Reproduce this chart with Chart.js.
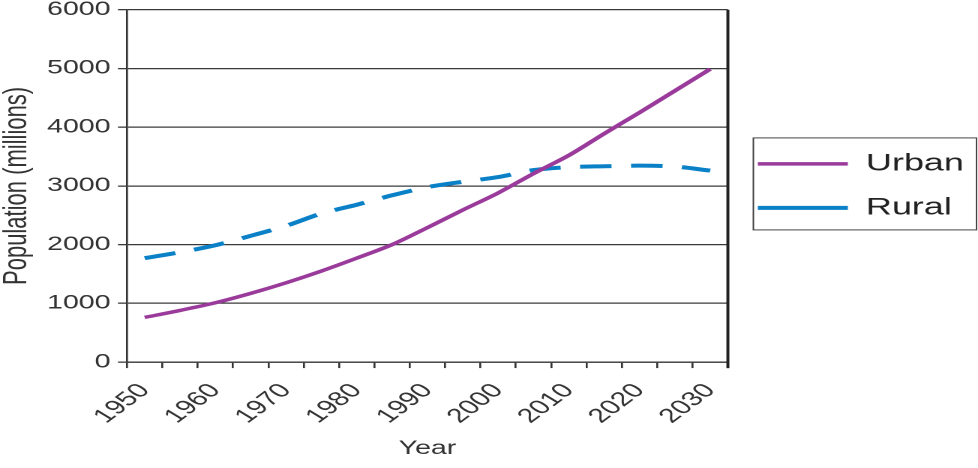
<!DOCTYPE html>
<html lang="en">
<head>
    <meta charset="UTF-8">
    <title>Urban and Rural Population</title>
    <script src="https://cdn.jsdelivr.net/npm/chart.js"></script>
    <style>
        body { margin: 0; overflow: hidden; background: #fff; }
        /* the source picture is stretched sideways, so draw at 2/3 width and widen it */
        #wrap { width: 652px; height: 468px; transform: scaleX(1.5); transform-origin: 0 0; }
    </style>
</head>
<body>
    <div id="wrap"><canvas id="chartCanvas"></canvas></div>

    <script>
        const years = ['1950', '1955', '1960', '1965', '1970', '1975', '1980', '1985', '1990',
                       '1995', '2000', '2005', '2010', '2015', '2020', '2025', '2030'];
        const urban = [760, 880, 1010, 1170, 1350, 1550, 1770, 2000, 2290, 2590, 2880, 3210, 3520, 3890, 4250, 4620, 4990];
        const rural = [1770, 1870, 1990, 2150, 2320, 2530, 2680, 2840, 2980, 3070, 3150, 3270, 3320, 3335, 3345, 3330, 3260];
        const yMin = 0;
        const yMax = 6000;
        const yStep = 1000;

        Chart.defaults.font.family = '"Liberation Sans", Arial, sans-serif';
        Chart.defaults.color = '#333';

        // right edge of the plot, and a box round the legend
        const frame = {
            id: 'frame',
            beforeDatasetsDraw(chart) {
                const {ctx, chartArea} = chart;
                ctx.save();
                ctx.strokeStyle = '#222';
                ctx.lineWidth = 2;
                ctx.beginPath();
                ctx.moveTo(chartArea.right, chartArea.top);
                ctx.lineTo(chartArea.right, chartArea.bottom + 6);
                ctx.stroke();
                ctx.restore();
            },
            afterDraw(chart) {
                const boxes = chart.legend.legendHitBoxes;
                if (!boxes || !boxes.length) return;
                const first = boxes[0];
                const last = boxes[boxes.length - 1];
                const left = first.left - 3;
                const top = first.top - 14;
                const right = chart.width - 1;
                const bottom = last.top + last.height + 10;
                const ctx = chart.ctx;
                ctx.save();
                ctx.strokeStyle = '#444';
                ctx.lineWidth = 1;
                ctx.strokeRect(left, top, right - left, bottom - top);
                ctx.restore();
            }
        };

        const ctx = document.getElementById('chartCanvas').getContext('2d');
        new Chart(ctx, {
            type: 'line',
            data: {
                labels: years,
                datasets: [
                    {
                        label: 'Urban',
                        data: urban,
                        borderColor: '#9a3b9c',
                        backgroundColor: '#9a3b9c',
                        borderWidth: 3.5,
                        pointRadius: 0,
                        tension: 0.3,
                        fill: false
                    },
                    {
                        label: 'Rural',
                        data: rural,
                        borderColor: '#0a80c6',
                        backgroundColor: '#0a80c6',
                        borderWidth: 4,
                        borderDash: [21, 13],
                        pointRadius: 0,
                        tension: 0.3,
                        fill: false
                    }
                ]
            },
            options: {
                responsive: true,
                maintainAspectRatio: false,
                animation: false,
                devicePixelRatio: 2,
                layout: {
                    padding: { top: 0, right: 5, bottom: 0, left: 0 }
                },
                scales: {
                    x: {
                        offset: true,
                        grid: {
                            offset: true,
                            drawOnChartArea: false,
                            tickLength: 6,
                            lineWidth: 1.3,
                            color: '#333'
                        },
                        border: { color: '#333', width: 1.3 },
                        ticks: {
                            autoSkip: false,
                            minRotation: 48,
                            maxRotation: 48,
                            padding: 11,
                            font: { size: 20 },
                            callback: function(value, index) {
                                return index % 2 === 0 ? this.getLabelForValue(value) : '';
                            }
                        },
                        title: {
                            display: true,
                            text: 'Year',
                            font: { size: 19 },
                            padding: { top: -2, bottom: 8 }
                        }
                    },
                    y: {
                        min: yMin,
                        max: yMax,
                        grid: {
                            color: '#3a3a3a',
                            lineWidth: 1.3,
                            tickLength: 6
                        },
                        border: { color: '#333', width: 1.3 },
                        ticks: {
                            stepSize: yStep,
                            padding: 5,
                            font: { size: 19, lineHeight: 0.5 },
                            callback: value => String(value)
                        },
                        title: {
                            display: true,
                            text: 'Population (millions)',
                            font: { size: 22 },
                            padding: { top: -2, bottom: 2 }
                        }
                    }
                },
                plugins: {
                    legend: {
                        position: 'right',
                        fullSize: false,
                        labels: {
                            usePointStyle: true,
                            pointStyle: 'line',
                            pointStyleWidth: 60,
                            padding: 20,
                            color: '#222',
                            font: { size: 24 }
                        }
                    },
                    tooltip: { enabled: false }
                }
            },
            plugins: [frame]
        });
    </script>
</body>
</html>
